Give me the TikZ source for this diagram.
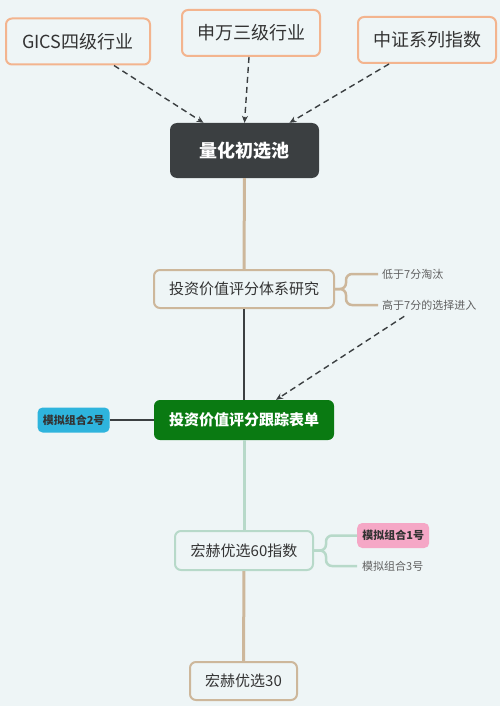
\documentclass[tikz,border=0pt]{standalone}
\usepackage{fontspec}
\setmainfont{Noto Sans CJK SC}
\usetikzlibrary{positioning}
\usetikzlibrary{arrows.meta}
\definecolor{bgcol}{HTML}{EEF5F6}
\definecolor{orangeline}{HTML}{F3B48E}
\definecolor{tanline}{HTML}{CDB79B}
\definecolor{darkcol}{HTML}{3B3F41}
\definecolor{greencol}{HTML}{0A7A12}
\definecolor{cyancol}{HTML}{2EB4DD}
\definecolor{pinkcol}{HTML}{F5A7C6}
\definecolor{mintline}{HTML}{B7D9C9}
\definecolor{textcol}{HTML}{333333}
\definecolor{notecol}{HTML}{5F5F5F}

\begin{document}
\begin{tikzpicture}[x=1pt,y=-1pt,
  every node/.style={inner sep=0pt,text=textcol},
  topbox/.style={draw=orangeline,line width=2pt,rounded corners=6pt,minimum width=144pt,minimum height=46pt,font=\fontsize{18}{18}\selectfont},
  poolbox/.style={fill=darkcol,rounded corners=7pt,minimum width=149pt,minimum height=55pt,text=white,font=\fontsize{18}{18}\selectfont\bfseries},
  tanbox/.style={draw=tanline,line width=2pt,rounded corners=6pt,minimum height=38pt,font=\fontsize{15}{15}\selectfont},
  mintbox/.style={draw=mintline,line width=2pt,rounded corners=6pt,minimum height=39pt,font=\fontsize{15}{15}\selectfont},
  trackbox/.style={fill=greencol,rounded corners=6pt,minimum width=180pt,minimum height=40pt,text=white,font=\fontsize{15}{15}\selectfont\bfseries},
  tagbox/.style={rounded corners=5pt,minimum width=72pt,minimum height=25pt,font=\fontsize{11}{11}\selectfont\bfseries},
  note/.style={text=notecol,font=\fontsize{11}{11}\selectfont},
  feed/.style={draw=darkcol,line width=1.4pt,dash pattern=on 6pt off 4pt,-{Stealth[length=7pt,width=6pt]}},
  tanlink/.style={draw=tanline,line width=3pt},
  darklink/.style={draw=darkcol,line width=2.5pt},
  mintlink/.style={draw=mintline,line width=3pt},
  twig/.style={line width=2.5pt,rounded corners=6pt}]

  \useasboundingbox[fill=bgcol] (0,0) rectangle (500,706);

  % sources
  \node[topbox] (gics) at (78,41.5) {GICS四级行业};
  \node[topbox,minimum width=138pt] (sw) at (251,33) {申万三级行业};
  \node[topbox,minimum width=138pt] (zz) at (427,40) {中证系列指数};

  % main chain
  \node[poolbox] (pool) at (244.5,150.5) {量化初选池};
  \node[tanbox,minimum width=180pt] (study) at (244,289) {投资价值评分体系研究};
  \node[trackbox] (track) at (244,420) {投资价值评分跟踪表单};
  \node[mintbox,minimum width=138pt] (idx60) at (244,550.5) {宏赫优选60指数};
  \node[tanbox,minimum width=107pt] (top30) at (243.5,681) {宏赫优选30};

  % side nodes
  \node[note,anchor=west] (low) at (382,274) {低于7分淘汰};
  \node[note,anchor=west] (high) at (382,305) {高于7分的选择进入};
  \node[tagbox,fill=cyancol,left=44pt of track] (mock2) {模拟组合2号};
  \node[tagbox,fill=pinkcol,anchor=west] (mock1) at (357,535.5) {模拟组合1号};
  \node[note,anchor=west] (mock3) at (362,566) {模拟组合3号};

  \draw[feed] ([xshift=36pt]gics.south) -- ([xshift=-41pt]pool.north);
  \draw[feed] ([xshift=-2pt]sw.south) -- (pool.north);
  \draw[feed] ([xshift=-38pt]zz.south) -- ([xshift=45pt]pool.north);

  \draw[tanlink] (pool) -- (study);
  \draw[darklink] (study) -- (track);
  \draw[mintlink] (track) -- (idx60);
  \draw[tanlink] (idx60) -- (top30);
  \draw[darklink] (track) -- (mock2);

  \draw[twig,draw=tanline] (study.east) -- ++(11,0) |- ([xshift=-4pt]low.west);
  \draw[twig,draw=tanline] (study.east) -- ++(11,0) |- ([xshift=-4pt]high.west);
  \draw[twig,draw=mintline] (idx60.east) -- ++(12,0) |- (mock1.west);
  \draw[twig,draw=mintline] (idx60.east) -- ++(12,0) |- ([xshift=-5pt]mock3.west);

  \draw[feed] ([xshift=-25pt,yshift=-6pt]high.south) -- ([xshift=32pt]track.north);
\end{tikzpicture}
\end{document}
